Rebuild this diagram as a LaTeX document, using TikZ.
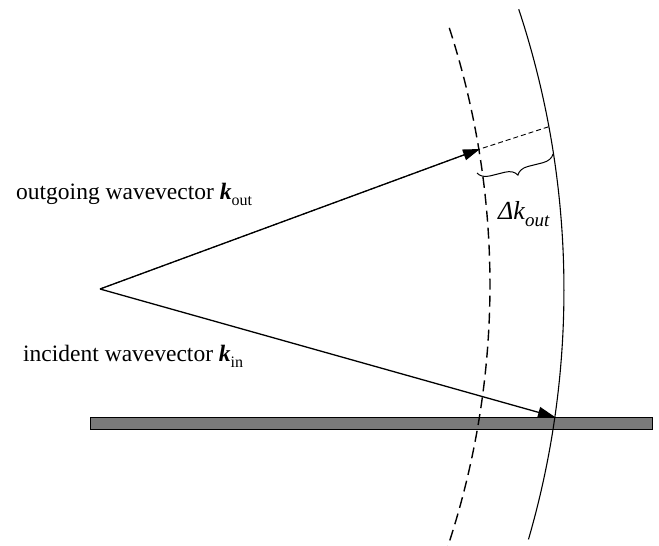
\documentclass[tikz,border=0pt]{standalone}
\usepackage{fontspec}
\setmainfont{Liberation Serif}
\usetikzlibrary{arrows.meta,decorations.pathreplacing}
\begin{document}
\begin{tikzpicture}[x=1pt,y=1pt,
  vec/.style={line width=1.3pt,-{Triangle[length=17pt,width=11pt]}},
  arcsolid/.style={line width=1.1pt},
  arcdash/.style={line width=1.4pt,dash pattern=on 11pt off 6pt},
  extdash/.style={line width=0.9pt,dash pattern=on 5pt off 3pt},
  lbl/.style={anchor=base west,inner sep=0pt,font=\fontsize{23.5}{27}\selectfont},
  barstyle/.style={draw=black,line width=0.9pt,fill=black!52}]
\useasboundingbox (0,0) rectangle (659,546);
% sample bar
\node[barstyle,minimum width=562pt,minimum height=12pt,inner sep=0pt] (bar) at (371,123) {};
% circles
\coordinate (cd) at (-342,261);
\coordinate (cs) at (-330,256);
\draw[arcdash] (cd) ++(18.0:832) arc[start angle=18.0,end angle=-18.4,radius=832];
\draw[arcsolid] (cs) ++(18.3:894) arc[start angle=18.3,end angle=-16.2,radius=894];
% vectors
\coordinate (A) at (100,257);
\coordinate (Tout) at (480,397);
\coordinate (Eout) at (551,420);
\coordinate (Tin) at (555,129);
\draw[extdash] (A) -- (Tout) -- (Eout);
\draw[vec] (A) -- (Tout);
\draw[vec] (A) -- (Tin);
% brace
\coordinate (B1) at (553,392);
\coordinate (B2) at (477,373);
\draw[line width=1pt,decorate,decoration={brace,amplitude=12pt}] (B1) -- (B2);
% labels
\node[lbl] (lout) at (16,346) {outgoing wavevector \textbf{\textit{k}}\raisebox{-0.22em}{\fontsize{16}{16}\selectfont out}};
\node[lbl] (lin) at (23,184) {incident wavevector \textbf{\textit{k}}\raisebox{-0.22em}{\fontsize{16}{16}\selectfont in}};
\node[anchor=base west,inner sep=0pt,font=\fontsize{26}{30}\selectfont\itshape] (dk) at (498,326) {Δk\raisebox{-0.25em}{\fontsize{19}{19}\selectfont out}};
\end{tikzpicture}
\end{document}
